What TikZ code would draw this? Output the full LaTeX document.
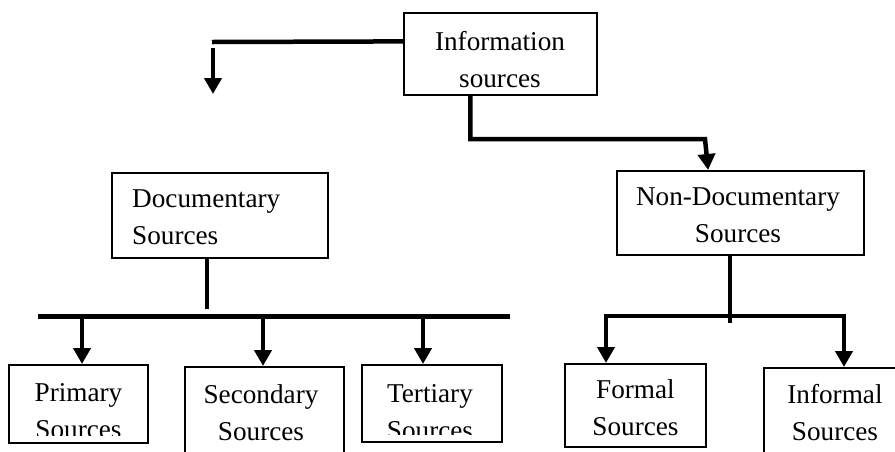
\documentclass[tikz,border=0pt]{standalone}
\usepackage{fontspec}
\setmainfont{Liberation Serif}
\usetikzlibrary{arrows.meta,calc}
\begin{document}
\begin{tikzpicture}[x=1pt,y=-1pt,
  box/.style={draw,line width=2pt,inner sep=0pt},
  txt/.style={font=\fontsize{27.2}{36.5}\selectfont,align=center,anchor=north,inner sep=0pt},
  link/.style={line width=4.5pt},
  bar/.style={line width=5pt},
  arr/.style={link,-{Triangle[width=17pt,length=16pt]}}]
\clip (0,0) rectangle (895,451);

% boxes
\node[box,minimum width=193pt,minimum height=82pt] (info) at (500.5,54) {};
\node[box,minimum width=216pt,minimum height=85pt] (doc) at (220,215.5) {};
\node[box,minimum width=247pt,minimum height=84pt] (nondoc) at (740.5,213) {};
\node[box,minimum width=139pt,minimum height=78pt] (prim) at (78.5,404) {};
\node[box,minimum width=159pt,minimum height=103pt] (sec) at (264.5,418.5) {};
\node[box,minimum width=140pt,minimum height=77pt] (ter) at (432,403.5) {};
\node[box,minimum width=141pt,minimum height=83pt] (formal) at (635.5,405.5) {};
\node[box,minimum width=142pt,minimum height=102pt] (informal) at (835,419) {};

% texts
\node[txt] (info-t) at (500,31.5) {Information\\sources};
\node[txt,anchor=north west,align=left] (doc-t) at (132,189.5) {Documentary\\Sources};
\node[txt] (nondoc-t) at (738,187.5) {Non-Documentary\\Sources};
\begin{scope}
  \clip (9,365) rectangle (148,435);
  \node[txt] (prim-t) at (78.5,383.5) {Primary\\Sources};
\end{scope}
\node[txt] (sec-t) at (261,384.5) {Secondary\\Sources};
\begin{scope}
  \clip (362,365) rectangle (502,434);
  \node[txt] (ter-t) at (430,384.5) {Tertiary\\Sources};
\end{scope}
\node[txt] (formal-t) at (635.5,379.5) {Formal\\Sources};
\node[txt] (informal-t) at (835,384.5) {Informal\\Sources};

% connectors from the top box
\coordinate (infoL) at ($(info.north west)!0.35!(info.south west)$);
\coordinate (leftEnd) at (212,42);
\coordinate (dropTop) at (213,48);
\coordinate (dropTip) at (213,94);
\draw[link] (infoL) -- (leftEnd);
\draw[arr] (dropTop) -- (dropTip);

\coordinate (infoB) at ($(info.south west)!0.345!(info.south east)$);
\coordinate (ndTop) at ($(nondoc.north west)!0.37!(nondoc.north east)$);
\draw[arr] (infoB) -- (infoB |- 0,139) -- (705,139) -- (ndTop);

% documentary branch
\coordinate (docB) at ($(doc.south west)!0.44!(doc.south east)$);
\draw[link] (docB) -- (docB |- 0,309);
\coordinate (barL) at (38,316.5);
\coordinate (barR) at (510,316.5);
\draw[bar] (barL) -- (barR);
\coordinate (b1) at (82,316.5);
\coordinate (b2) at (263,316.5);
\coordinate (b3) at (423,316.5);
\draw[arr] (b1) -- (b1 |- prim.north);
\draw[arr] (b2) -- (b2 |- sec.north);
\draw[arr] (b3) -- (b3 |- ter.north);

% non-documentary branch
\coordinate (ndB) at ($(nondoc.south west)!0.457!(nondoc.south east)$);
\draw[link] (ndB) -- (ndB |- 0,323);
\coordinate (n1) at (606,316);
\coordinate (n2) at (844,316);
\draw[arr] (n2) -- (n1) -- (n1 |- formal.north);
\draw[arr] (n1) -- (n2) -- (n2 |- informal.north);
\end{tikzpicture}
\end{document}
